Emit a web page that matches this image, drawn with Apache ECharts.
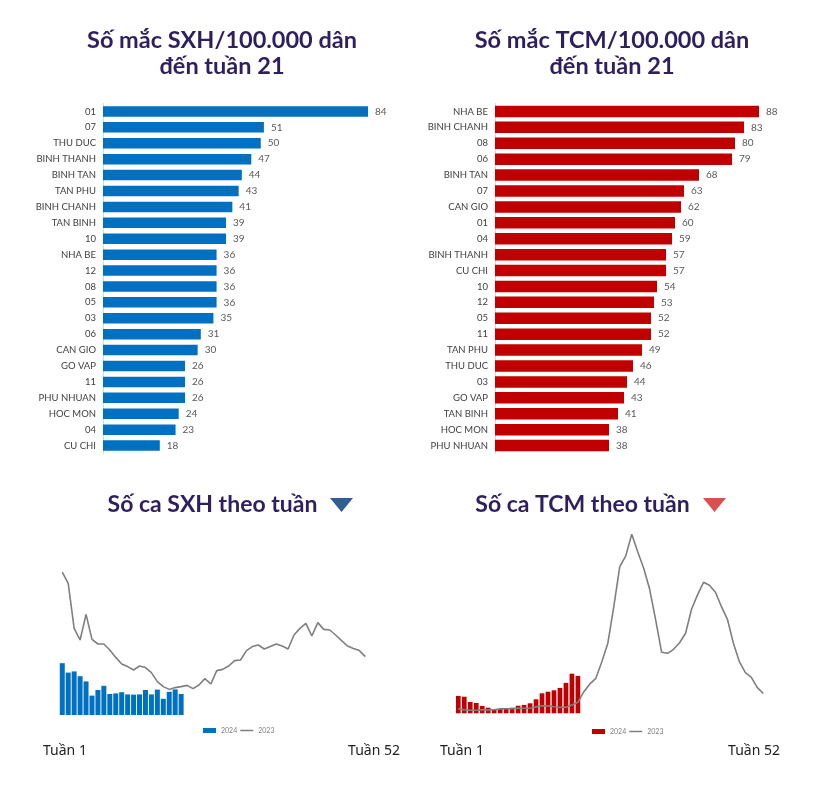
<!DOCTYPE html>
<html><head><meta charset="utf-8">
<script src="https://cdn.jsdelivr.net/npm/echarts@6/dist/echarts.min.js"></script>
<style>html,body{margin:0;padding:0;background:#fff}#c{width:825px;height:798px}</style>
</head><body><div id="c"></div>
<script>
// Rates per 100,000 up to week 21
const sxhDistricts = ['01','07','THU DUC','BINH THANH','BINH TAN','TAN PHU','BINH CHANH','TAN BINH','10','NHA BE','12','08','05','03','06','CAN GIO','GO VAP','11','PHU NHUAN','HOC MON','04','CU CHI'];
const sxhRates = [84,51,50,47,44,43,41,39,39,36,36,36,36,35,31,30,26,26,26,24,23,18];
const tcmDistricts = ['NHA BE','BINH CHANH','08','06','BINH TAN','07','CAN GIO','01','04','BINH THANH','CU CHI','10','12','05','11','TAN PHU','THU DUC','03','GO VAP','TAN BINH','HOC MON','PHU NHUAN'];
const tcmRates = [88,83,80,79,68,63,62,60,59,57,57,54,53,52,52,49,46,44,43,41,38,38];

// Weekly cases
const weeks = Array.from({length:52},(_,i)=>'Tuần '+(i+1));
const sxh2024 = [259,212,218,194,168,97,125,146,105,108,114,103,102,103,125,103,127,81,116,128,105];
const sxh2023 = [714,658,433,375,503,378,355,355,325,288,255,242,225,245,237,212,167,142,128,137,142,148,132,150,182,155,222,228,245,272,275,322,342,350,330,342,355,345,330,400,433,458,395,462,428,425,400,372,345,333,322,292];
const tcm2024 = [87,83,57,52,37,28,17,22,25,28,38,42,50,70,100,108,115,127,152,198,187];
const tcm2023 = [22,17,15,15,17,17,18,22,23,23,25,25,25,32,38,37,33,30,30,42,55,108,147,175,258,350,533,733,787,895,808,725,620,467,305,300,320,353,400,520,592,655,640,605,533,470,350,258,203,180,128,100];

const titleColor = '#2f1f5e';
const FONT = 'Lato';
const lineIcon = 'path://M0,0L0.01,0ZM0,1.8L13,1.8L13,3.2L0,3.2ZM13,5L13.01,5Z';
const chart = echarts.init(document.getElementById('c'), null, {renderer:'canvas'});

function txt(text, x, y, size, opts) {
  return {type:'text', x:x, y:y, style:Object.assign({text:text, fontSize:size, fontWeight:'bold', fontFamily:FONT, fill:titleColor, align:'center', verticalAlign:'middle'}, opts||{})};
}

const option = {
  animation:false,
  backgroundColor:'#fff',
  grid:[
    {left:103, top:103.5, width:315.5, height:350},
    {left:495, top:103.5, width:300, height:350},
    {left:59.3, bottom:83, width:309, height:150},
    {left:455.3, bottom:84.7, width:311, height:200}
  ],
  xAxis:[
    {gridIndex:0, type:'value', min:0, max:100, show:false},
    {gridIndex:1, type:'value', min:0, max:100, show:false},
    {gridIndex:2, type:'category', data:weeks, show:false},
    {gridIndex:3, type:'category', data:weeks, show:false}
  ],
  yAxis:[
    {gridIndex:0, type:'category', data:sxhDistricts, inverse:true,
     axisLine:{lineStyle:{color:'#d9d9d9'}}, axisTick:{show:false},
     axisLabel:{fontSize:9.5, color:'#404040', fontFamily:FONT, margin:7}},
    {gridIndex:1, type:'category', data:tcmDistricts, inverse:true,
     axisLine:{lineStyle:{color:'#d9d9d9'}}, axisTick:{show:false},
     axisLabel:{fontSize:9.5, color:'#404040', fontFamily:FONT, margin:7}},
    {gridIndex:2, type:'value', min:0, max:750, show:false},
    {gridIndex:3, type:'value', min:0, max:1000, show:false}
  ],
  legend:[
    {left:203, top:727, itemWidth:13, itemHeight:5, itemGap:3, padding:0,
     data:[{name:'SXH 2024', icon:'rect'},{name:'SXH 2023', icon:lineIcon}], formatter:n=>n.slice(-4),
     textStyle:{fontSize:7, color:'#7f7f7f', fontFamily:FONT}},
    {left:592, top:728, itemWidth:13, itemHeight:5, itemGap:3, padding:0,
     data:[{name:'TCM 2024', icon:'rect'},{name:'TCM 2023', icon:lineIcon}], formatter:n=>n.slice(-4),
     textStyle:{fontSize:7, color:'#7f7f7f', fontFamily:FONT}}
  ],
  series:[
    {type:'bar', xAxisIndex:0, yAxisIndex:0, data:sxhRates, barWidth:10.5,
     itemStyle:{color:'#0070C0'},
     label:{show:true, position:'right', distance:7, fontSize:10, color:'#595959', fontFamily:FONT}},
    {type:'bar', xAxisIndex:1, yAxisIndex:1, data:tcmRates, barWidth:11.5,
     itemStyle:{color:'#C00000'},
     label:{show:true, position:'right', distance:7, fontSize:10, color:'#595959', fontFamily:FONT}},
    {name:'SXH 2024', type:'bar', xAxisIndex:2, yAxisIndex:2, data:sxh2024, barWidth:5,
     itemStyle:{color:'#0070C0'}},
    {name:'SXH 2023', type:'line', xAxisIndex:2, yAxisIndex:2, data:sxh2023, symbol:'none',
     lineStyle:{color:'#7f7f7f', width:1.6}, itemStyle:{color:'#7f7f7f'}},
    {name:'TCM 2024', type:'bar', xAxisIndex:3, yAxisIndex:3, data:tcm2024, barWidth:4.7,
     itemStyle:{color:'#C00000'}},
    {name:'TCM 2023', type:'line', xAxisIndex:3, yAxisIndex:3, data:tcm2023, symbol:'none',
     lineStyle:{color:'#7f7f7f', width:1.6}, itemStyle:{color:'#7f7f7f'}, z:3}
  ],
  graphic:[
    txt('Số mắc SXH/100.000 dân', 222, 40, 23.5),
    txt('đến tuần 21', 222, 66, 23.5),
    txt('Số mắc TCM/100.000 dân', 612, 40, 23.5),
    txt('đến tuần 21', 612, 66, 23.5),
    txt('Số ca SXH theo tuần', 212.5, 505, 23),
    txt('Số ca TCM theo tuần', 582.5, 505, 23),
    {type:'polygon', shape:{points:[[330,498],[353,498],[341.5,512]]}, style:{fill:'#2f5d94'}},
    {type:'polygon', shape:{points:[[703,498],[726,498],[714.5,512]]}, style:{fill:'#d9504f'}},
    txt('Tuần 1', 43, 751, 14, {align:'left', fontWeight:'normal', fill:'#222', fontFamily:'Noto Sans'}),
    txt('Tuần 52', 400, 751, 14, {align:'right', fontWeight:'normal', fill:'#222', fontFamily:'Noto Sans'}),
    txt('Tuần 1', 440, 751, 14, {align:'left', fontWeight:'normal', fill:'#222', fontFamily:'Noto Sans'}),
    txt('Tuần 52', 780, 751, 14, {align:'right', fontWeight:'normal', fill:'#222', fontFamily:'Noto Sans'})
  ]
};
chart.setOption(option);
</script></body></html>
